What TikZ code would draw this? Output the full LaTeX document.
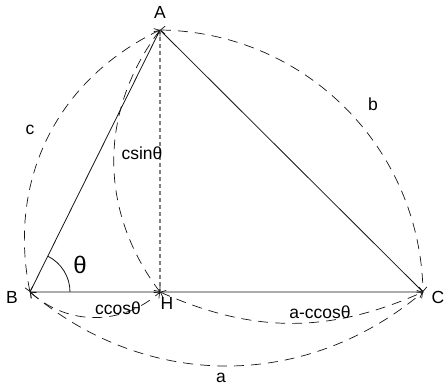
\documentclass[tikz,border=0pt]{standalone}
\usepackage{fontspec}
\setmainfont{Liberation Sans}
\usepackage{tikz}
\usetikzlibrary{arrows.meta,angles}
\definecolor{ink}{RGB}{20,20,20}
\tikzset{
  side/.style={draw=ink,line width=0.8pt},
  dim/.style={draw=ink,line width=0.7pt,dash pattern=on 10pt off 7pt,
    {Straight Barb[length=1.6mm,width=2.8mm]}-{Straight Barb[length=1.6mm,width=2.8mm]}},
  hgt/.style={draw=gray,line width=1.2pt,dash pattern=on 4pt off 3pt},
  lbl/.style={font=\fontsize{17.5}{20}\selectfont,inner sep=1pt},
}

\begin{document}
\begin{tikzpicture}[x=1pt,y=1pt]
  \useasboundingbox (0,0) rectangle (448,389);
  \coordinate (A) at (160,359);
  \coordinate (B) at (30,97);
  \coordinate (C) at (423,97);
  \coordinate (H) at (160,97);
  % triangle and height
  \draw[side] (A)--(B)--(C)--cycle;
  \draw[hgt] (A)--(H);
  \pic[draw=ink,line width=0.8pt,angle radius=40pt] {angle=C--B--A};
  % dimension arcs
  \draw[dim] (B) to[bend left=38] (A);
  \draw[dim] (A) to[bend left=44] (C);
  \draw[dim] (B) to[bend right=40] (C);
  \draw[dim] (B) to[bend right=42] (H);
  \draw[dim] (H) to[bend right=24] (C);
  \draw[dim] (A) to[bend right=37] (H);
  % labels
  \node[lbl] (lA) at (160,377) {A};
  \node[lbl] (lB) at (12,92) {B};
  \node[lbl] (lC) at (438,92) {C};
  \node[lbl] (lH) at (167,86) {H};
  \node[lbl] (lc) at (30,259) {c};
  \node[lbl] (lb) at (373,285) {b};
  \node[lbl] (la) at (221,11) {a};
  \node[lbl] (lcc) at (118,81) {ccosθ};
  \node[lbl] (lac) at (320,77) {a-ccosθ};
  \node[lbl] (lcs) at (142,236) {csinθ};
  \node[font=\fontsize{24}{26}\selectfont] (lt) at (80,124) {θ};
\end{tikzpicture}
\end{document}
